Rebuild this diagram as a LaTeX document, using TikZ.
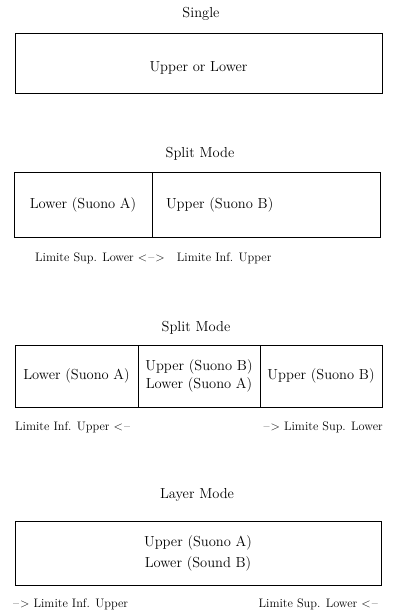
\documentclass[tikz,border=0pt]{standalone}
\usepackage{fontspec}
\begin{document}
\begin{tikzpicture}[x=1pt,y=-1pt,
  cell/.style={draw, line width=1pt, inner sep=0pt, font=\fontsize{14.5}{21}\selectfont},
  ttl/.style={font=\fontsize{14.5}{17}\selectfont, inner sep=0pt},
  lim/.style={font=\fontsize{12.3}{14}\selectfont, inner sep=0pt}]
\useasboundingbox (0,0) rectangle (396,612);

% Single
\node[ttl] (t1) at (201,14) {Single};
\node[cell, minimum width=367pt, minimum height=60pt] (single) at (198.5,64) {\raisebox{-4pt}[\height][\depth]{Upper or Lower}};

% Split mode 1
\node[ttl] (t2) at (200,154) {Split Mode};
\node[cell, minimum width=138pt, minimum height=64pt] (s1a) at (83,205) {Lower (Suono A)};
\node[cell, minimum width=228pt, minimum height=64pt, text width=200pt, align=left, inner xsep=14pt] (s1b) at (266,205) {Upper (Suono B)};
\node[lim, anchor=west] (l1) at (35,258) {Limite Sup. Lower {<}\kern1pt--\kern1pt{>}\quad Limite Inf. Upper};

% Split mode 2
\node[ttl] (t3) at (196,328) {Split Mode};
\node[cell, minimum width=123pt, minimum height=62pt] (s2a) at (76.5,376) {Lower (Suono A)};
\node[cell, minimum width=122pt, minimum height=62pt, align=center, font=\fontsize{14.5}{18}\selectfont] (s2b) at (199,376) {Upper (Suono B)\\Lower (Suono A)};
\node[cell, minimum width=122pt, minimum height=62pt] (s2c) at (321,376) {Upper (Suono B)};
\node[lim, anchor=west] (l2) at (15,427) {Limite Inf. Upper {<}\kern1pt--};
\node[lim, anchor=east] (l3) at (383,427) {--\kern1pt{>} Limite Sup. Lower};

% Layer mode
\node[ttl] (t4) at (197,495) {Layer Mode};
\node[cell, minimum width=366pt, minimum height=64pt, align=center] (layer) at (198,553) {Upper (Suono A)\\Lower (Sound B)};
\node[lim, anchor=west] (l4) at (13,604) {--\kern1pt{>} Limite Inf. Upper};
\node[lim, anchor=east] (l5) at (378,604) {Limite Sup. Lower {<}\kern1pt--};
\end{tikzpicture}
\end{document}
